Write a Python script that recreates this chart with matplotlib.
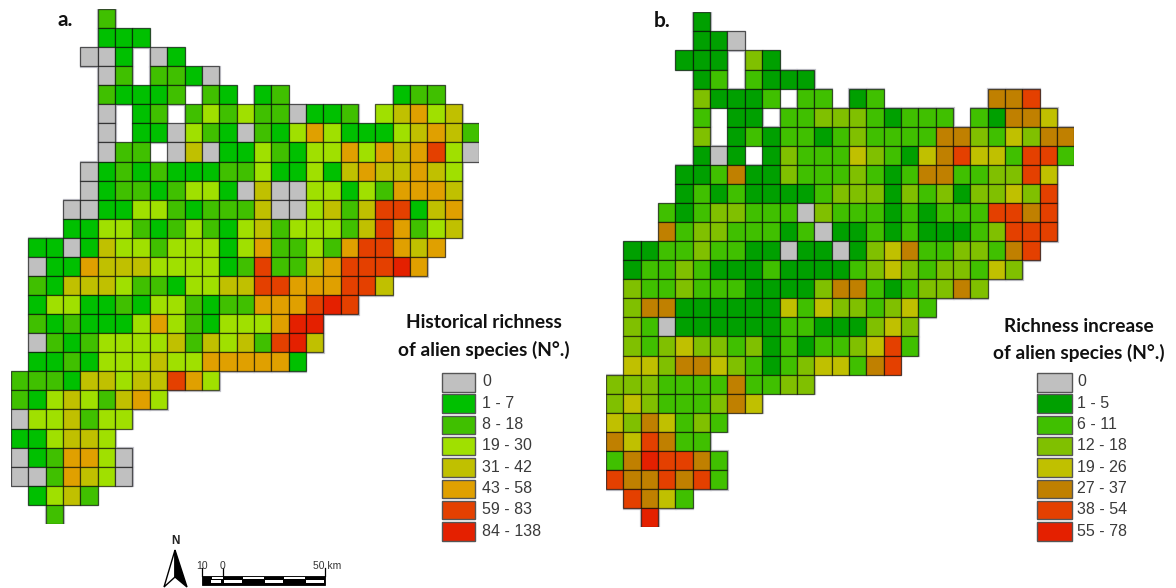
import matplotlib
matplotlib.use("Agg")
import matplotlib.pyplot as plt
from matplotlib.patches import Polygon, Rectangle

# Class per grid cell: '.' no cell, 0 grey class, 1-7 richness classes
richness_a = [
    ".....2",
    ".....111",
    "....001.01",
    ".....02.2210",
    ".....21112.21.12......122",
    ".....0.12.2323220112.34534",
    ".....0.11032102135311134542",
    ".....022.040113213353545630",
    "....0121211122311314544543",
    "....012212331040033132" + "5554",
    "...00113321222400342466145",
    "...1133212321342333246" + "5234",
    ".1101433233313522325665" + "45",
    ".011544433331262245666" + "75",
    ".214443221334466555664",
    ".1331121332122555676",
    ".21211135321333577",
    ".02123333424342674",
    ".1121333433555551",
    "222144344653",
    "213432453",
    "0334233",
    "113443",
    "0125530",
    "0025430",
    ".1342",
    "..2",
]
richness_b = [
    ".....1",
    ".....110",
    "....111.31",
    ".....12.2111",
    ".....31112.22.12......556",
    ".....2.11.2233321222.21554",
    ".....3.12122123222255324355",
    ".....101.132224321456442662",
    "....1125113222321255223364",
    "....1212111123331323133436",
    "...21233222032221212226656",
    "...52332221201121211123666",
    ".112232211011013452233256",
    ".12232111211112343233243",
    ".322322211113552123353",
    ".355111111424332342",
    ".32011111122111343",
    ".323433231212234" + "62",
    ".443554321234425" + "6",
    "333222252233",
    "343222354",
    "4354232",
    "546522",
    "2576652",
    "6556562",
    ".6542",
    "..7",
]
colors_a = ["#c0c0c0", "#00c000", "#40c000", "#a0e000", "#c0c000", "#e0a000", "#e44000", "#e42000"]
colors_b = ["#c0c0c0", "#00a000", "#40c000", "#80c000", "#c0c000", "#c08000", "#e44000", "#e42000"]
labels_a = ["0", "1 - 7", "8 - 18", "19 - 30", "31 - 42", "43 - 58", "59 - 83", "84 - 138"]
labels_b = ["0", "1 - 5", "6 - 11", "12 - 18", "19 - 26", "27 - 37", "38 - 54", "55 - 78"]

W, H = 1176, 588
fig = plt.figure(figsize=(W / 100, H / 100), dpi=100, facecolor="white")
EDGE = (0, 0, 0, 0.6)


def grid_map(rows, colors, x0, y0):
    cw, ch = 17.35, 19.07
    ax = fig.add_axes([x0 / W, 1 - (y0 + 27 * ch) / H, 27 * cw / W, 27 * ch / H])
    ax.set_xlim(0, 27)
    ax.set_ylim(27, 0)
    ax.axis("off")
    for r, row in enumerate(rows):
        for c, ch_ in enumerate(row):
            if ch_ == ".":
                continue
            # soft drop shadow, then the cell
            ax.bar(c + 0.03, 1, bottom=r + 0.03, width=1, align="edge", color="none",
                   edgecolor="#c4c4cc", linewidth=1.6, zorder=1)
    for r, row in enumerate(rows):
        for c, ch_ in enumerate(row):
            if ch_ == ".":
                continue
            ax.bar(c, 1, bottom=r, width=1, align="edge", color=colors[int(ch_)],
                   edgecolor=EDGE, linewidth=0.9, zorder=2)


grid_map(richness_a, colors_a, 11, 9)
grid_map(richness_b, colors_b, 606, 12.3)

ov = fig.add_axes([0, 0, 1, 1])
ov.set_xlim(0, W)
ov.set_ylim(H, 0)
ov.axis("off")
ov.patch.set_alpha(0)

ov.text(65, 20, "a.", family="Lato", weight="bold", fontsize=15, ha="center", va="center", color="#111111")
ov.text(662, 21, "b.", family="Lato", weight="bold", fontsize=15, ha="center", va="center", color="#111111")


def legend(title1, title2, labels, colors, sx, sw, lx, tx, ty1, ty2):
    ov.text(tx, ty1, title1, family="Lato", weight="bold", fontsize=13.8, ha="center", va="center", color="#111111")
    ov.text(tx, ty2, title2, family="Lato", weight="bold", fontsize=13.8, ha="center", va="center", color="#111111")
    for i, (lab, col) in enumerate(zip(labels, colors)):
        top = 373 + i * 21.3
        ov.add_patch(Rectangle((sx, top), sw, 18.5, facecolor=col, edgecolor="#555555", linewidth=1.0))
        ov.text(lx, top + 9, lab, family="Liberation Sans", fontsize=11.5, ha="left", va="center", color="#3a3a3a")


legend("Historical richness", "of alien species (N°.)", labels_a, colors_a, 442, 33, 482.5, 484, 323, 350)
legend("Richness increase", "of alien species (N°.)", labels_b, colors_b, 1037, 34.5, 1077, 1079, 326, 353)

# North arrow
ov.text(175, 541, "N", family="Liberation Sans", weight="bold", fontsize=8.5, ha="center", va="center", color="#222222")
ov.add_patch(Polygon([(175, 550), (164, 587), (175, 577)], closed=True, facecolor="white", edgecolor="black", linewidth=1))
ov.add_patch(Polygon([(175, 550), (187, 587), (175, 577)], closed=True, facecolor="black", edgecolor="black", linewidth=1))

# Scale bar
bx0, bx1 = 202, 325
ov.add_patch(Rectangle((bx0, 576), bx1 - bx0, 8.5, facecolor="black", edgecolor="black", linewidth=0.6))
unit = (bx1 - bx0) / 6
for i in range(6):
    x = bx0 + i * unit
    if i % 2 == 0:
        ov.add_patch(Rectangle((x + unit / 2 if i == 0 else x, 577.2), unit / 2 if i == 0 else unit, 1.8,
                               facecolor="white", edgecolor="none"))
    if i == 0:
        ov.add_patch(Rectangle((x + unit / 2 - 1, 579.5), unit / 2 - 1, 3, facecolor="white", edgecolor="none"))
    elif i % 2 == 1:
        ov.add_patch(Rectangle((x + 1, 579.5), unit - 2, 3, facecolor="white", edgecolor="none"))
for x in (bx0, bx0 + unit, bx1):
    ov.plot([x, x], [568, 576], color="black", linewidth=0.9)
ov.text(202, 566, "10", family="Liberation Sans", fontsize=7.5, ha="center", va="center", color="#333333")
ov.text(222, 566, "0", family="Liberation Sans", fontsize=7.5, ha="center", va="center", color="#333333")
ov.text(341, 566, "50 km", family="Liberation Sans", fontsize=7.5, ha="right", va="center", color="#333333")

fig.savefig("out.png", dpi=100, facecolor="white")
